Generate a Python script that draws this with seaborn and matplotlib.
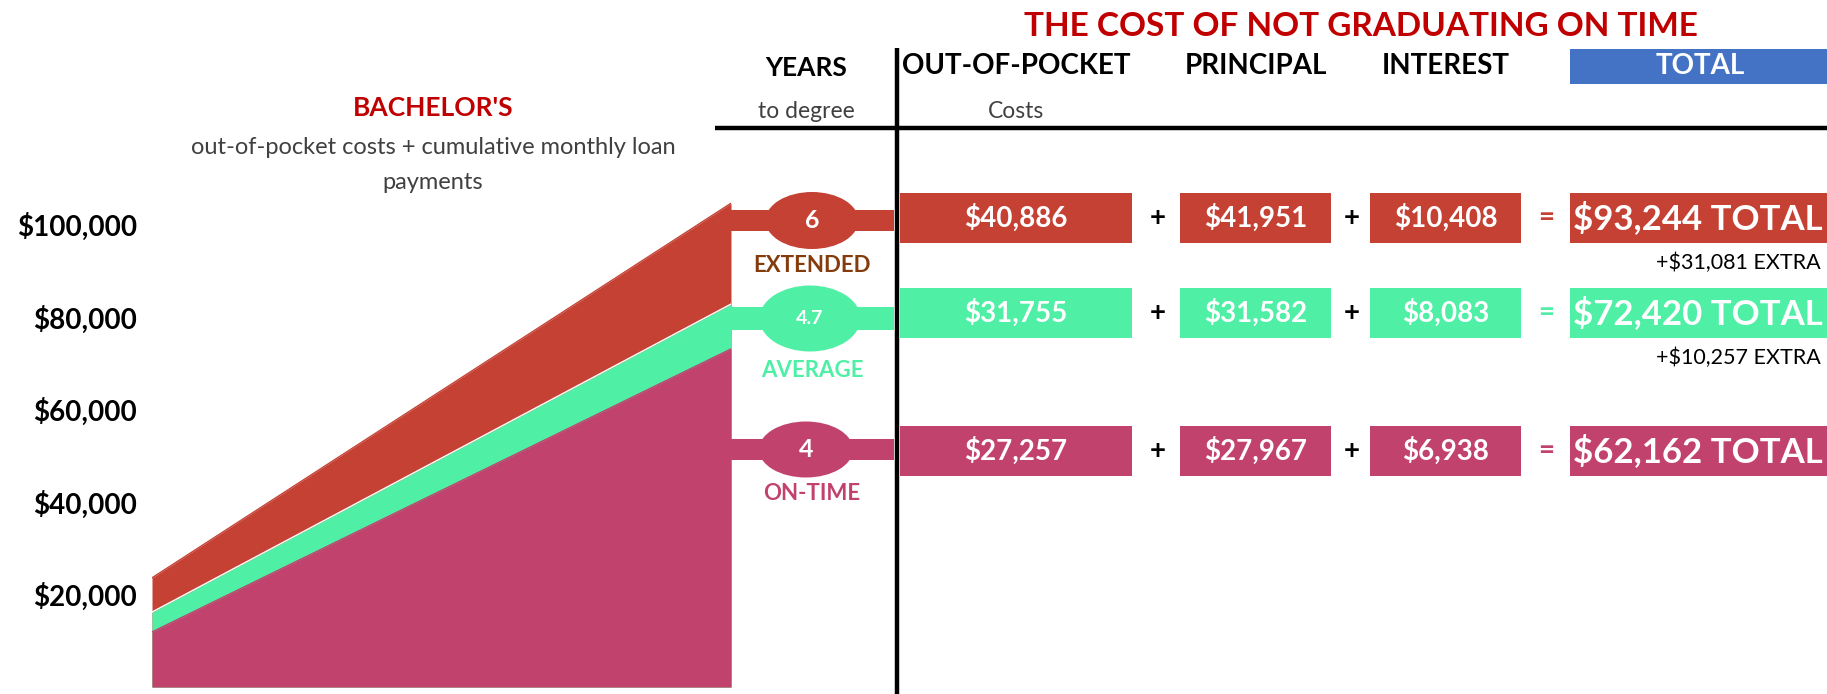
import matplotlib
matplotlib.use("Agg")
import matplotlib.pyplot as plt
from matplotlib.patches import Rectangle, Ellipse
import seaborn as sns
import pandas as pd

# ---------------- data ----------------
stage = [0, 1]
extended_cum = [23600, 104600]
average_cum = [16200, 82800]
ontime_cum = [11900, 73100]
y_ticks = [20000, 40000, 60000, 80000, 100000]

row_names = ["EXTENDED", "AVERAGE", "ON-TIME"]
years_to_degree = ["6", "4.7", "4"]
out_of_pocket = [40886, 31755, 27257]
principal = [41951, 31582, 27967]
interest = [10408, 8083, 6938]
totals = [93244, 72420, 62162]
extra = [31081, 10257, None]

col_headers = ["OUT-OF-POCKET", "PRINCIPAL", "INTEREST", "TOTAL"]

# ---------------- styles / layout ----------------
RED = "#C44133"
GREEN = "#4FEFA6"
PINK = "#C2426E"
BROWN = "#843C0C"
TITLE_RED = "#C00000"
BLUE = "#4472C4"
GRAY = "#404040"
row_colors = [RED, GREEN, PINK]
label_colors = [BROWN, GREEN, PINK]

W, H = 1827, 694
sns.set_theme(style="white")
plt.rcParams["font.family"] = ["Lato", "DejaVu Sans"]

fig = plt.figure(figsize=(W / 100, H / 100), dpi=100)

# ---- area chart (left) ----
ax = fig.add_axes([152 / W, 0, (731 - 152) / W, 1])
df = pd.DataFrame({
    "stage": stage * 3,
    "value": extended_cum + average_cum + ontime_cum,
    "series": ["extended"] * 2 + ["average"] * 2 + ["ontime"] * 2,
})
for name, col in [("extended", RED), ("average", GREEN), ("ontime", PINK)]:
    sub = df[df.series == name]
    ax.fill_between(sub.stage, 0, sub.value, color=col, lw=0)
sns.lineplot(data=df, x="stage", y="value", hue="series",
             palette={"extended": RED, "average": "white", "ontime": PINK},
             legend=False, lw=1.0, ax=ax)
ax.set_xlim(0, 1)
ax.set_ylim(-1514, 148540)
ax.set_yticks(y_ticks)
ax.set_yticklabels([f"${v:,}" for v in y_ticks], fontsize=20, fontweight="bold", color="black")
ax.tick_params(axis="y", length=0, pad=11)
ax.set_xticks([])
ax.set_xlabel("")
ax.set_ylabel("")
for s in ax.spines.values():
    s.set_visible(False)
ax.patch.set_alpha(0)

# ---- overlay for the table part ----
ov = fig.add_axes([0, 0, 1, 1], zorder=5)
ov.set_xlim(0, W)
ov.set_ylim(H, 0)
ov.axis("off")
ov.patch.set_alpha(0)

# title & headers
ov.text(1361, 26, "THE COST OF NOT GRADUATING ON TIME", color=TITLE_RED, fontsize=24,
        fontweight="bold", ha="center", va="center")
ov.text(433, 108, "BACHELOR'S", color=TITLE_RED, fontsize=19, fontweight="bold", ha="center", va="center")
ov.text(433, 147, "out-of-pocket costs + cumulative monthly loan", color=GRAY, fontsize=17,
        ha="center", va="center")
ov.text(433, 182, "payments", color=GRAY, fontsize=17, ha="center", va="center")
ov.text(806, 68, "YEARS", color="black", fontsize=19, fontweight="bold", ha="center", va="center")
ov.text(806, 111, "to degree", color=GRAY, fontsize=16.5, ha="center", va="center")

col_x = [(900, 1132), (1180, 1331), (1370, 1521), (1570, 1827)]
for i, h in enumerate(col_headers):
    cx = (col_x[i][0] + col_x[i][1]) / 2
    if h == "TOTAL":
        ov.add_patch(Rectangle((1570, 49), W - 1570, 35, color=BLUE, lw=0))
        ov.text(1700, 66, h, color="white", fontsize=20, fontweight="bold", ha="center", va="center")
    else:
        ov.text(cx, 66, h, color="black", fontsize=20, fontweight="bold", ha="center", va="center")
ov.text(1016, 111, "Costs", color=GRAY, fontsize=16.5, ha="center", va="center")

# divider lines
ov.plot([897, 897], [48, H], color="black", lw=3.2, solid_capstyle="butt")
ov.plot([715, W], [128, 128], color="black", lw=3.2, solid_capstyle="butt")

# rows
box_top = [193, 288, 426]
box_h = 50
band = [(210, 231), (307, 330), (439, 460)]
ell = [(812, 93, 57), (810, 101, 66), (806, 94, 56)]
lab_y = [265, 370, 493]
for r in range(3):
    c = row_colors[r]
    # connector band + ellipse
    b0, b1 = band[r]
    ov.add_patch(Rectangle((731, b0), 894 - 731, b1 - b0, color=c, lw=0))
    ex, ew, eh = ell[r]
    ecy = (b0 + b1) / 2
    ov.add_patch(Ellipse((ex, ecy), ew, eh, color=c, lw=0))
    ov.text(ex, ecy, years_to_degree[r], color="white", fontsize=14 if "." in years_to_degree[r] else 18,
            fontweight="bold", ha="center", va="center")
    ov.text(812, lab_y[r], row_names[r], color=label_colors[r], fontsize=16, fontweight="bold",
            ha="center", va="center")
    # value boxes
    vals = [out_of_pocket[r], principal[r], interest[r]]
    cy = box_top[r] + box_h / 2
    for j, v in enumerate(vals):
        x0, x1 = col_x[j]
        ov.add_patch(Rectangle((x0, box_top[r]), x1 - x0, box_h, color=c, lw=0))
        ov.text((x0 + x1) / 2, cy, f"${v:,}", color="white", fontsize=20, fontweight="bold",
                ha="center", va="center")
    x0, x1 = col_x[3]
    ov.add_patch(Rectangle((x0, box_top[r]), x1 - x0, box_h, color=c, lw=0))
    ov.text(x0 + 3, cy, f"${totals[r]:,} TOTAL", color="white", fontsize=25, fontweight="bold",
            ha="left", va="center")
    ov.text(1158, cy, "+", color="black", fontsize=20, fontweight="bold", ha="center", va="center")
    ov.text(1352, cy, "+", color="black", fontsize=20, fontweight="bold", ha="center", va="center")
    ov.text(1546, cy, "=", color=c, fontsize=20, fontweight="bold", ha="center", va="center")
    if extra[r] is not None:
        ov.text(1821, box_top[r] + box_h + 20, f"+${extra[r]:,} EXTRA", color="black", fontsize=15.5,
                ha="right", va="center")

fig.savefig("out.png", dpi=100)
